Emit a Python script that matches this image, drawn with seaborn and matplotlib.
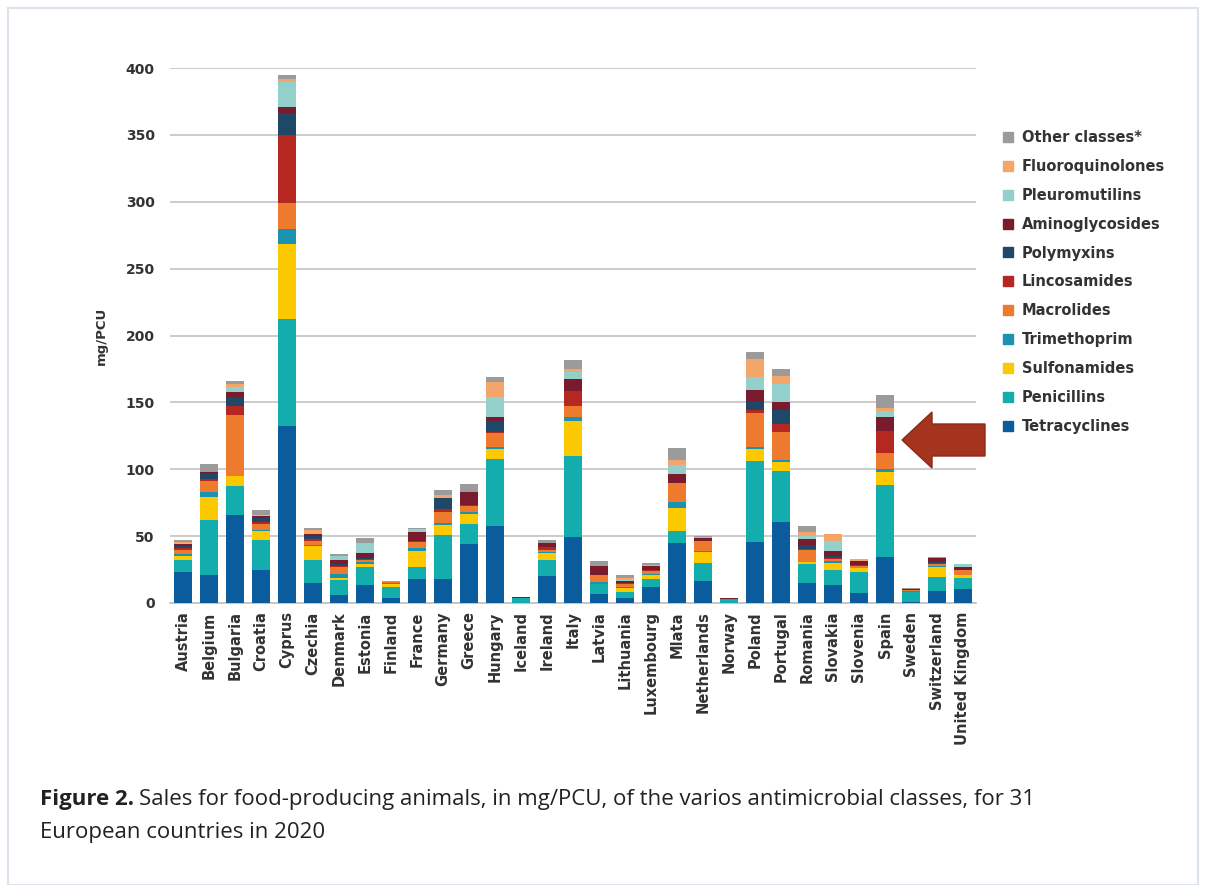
import matplotlib
matplotlib.use("Agg")
import matplotlib.pyplot as plt
from matplotlib.patches import Rectangle, FancyArrow
from matplotlib.lines import Line2D
import numpy as np
import pandas as pd
import seaborn as sns

countries = ["Austria", "Belgium", "Bulgaria", "Croatia", "Cyprus", "Czechia", "Denmark",
             "Estonia", "Finland", "France", "Germany", "Greece", "Hungary", "Iceland",
             "Ireland", "Italy", "Latvia", "Lithuania", "Luxembourg", "Mlata", "Netherlands",
             "Norway", "Poland", "Portugal", "Romania", "Slovakia", "Slovenia", "Spain",
             "Sweden", "Switzerland", "United Kingdom"]

tetracyclines    = [23.0, 21.0, 66.0, 24.7, 132.0, 15.0, 6.2, 13.7, 3.7, 18.2, 18.2, 44.0, 57.7, 0.3, 20.0, 49.3, 6.9, 3.5, 11.9, 44.8, 16.3, 0.3, 45.5, 60.4, 15.2, 13.7, 7.7, 34.4, 0.5, 8.7, 10.2]
penicillins      = [9.0, 41.0, 21.7, 22.5, 80.6, 17.5, 11.3, 13.3, 8.3, 8.8, 32.8, 14.8, 50.3, 3.2, 12.4, 60.7, 7.0, 4.7, 5.7, 9.2, 13.7, 2.8, 60.5, 38.1, 14.2, 10.7, 15.5, 53.6, 7.5, 10.8, 8.5]
sulfonamides     = [3.5, 17.3, 7.3, 6.3, 56.0, 10.0, 1.0, 2.0, 2.2, 11.7, 7.6, 8.0, 7.3, 0.0, 5.0, 26.4, 0.5, 2.7, 3.7, 17.3, 8.1, 0.0, 9.3, 6.9, 1.0, 5.8, 3.0, 10.0, 0.5, 7.4, 2.0]
trimethoprim     = [1.0, 3.9, 0.0, 0.8, 10.7, 0.5, 3.0, 1.5, 0.5, 2.7, 1.4, 1.2, 1.3, 0.0, 0.5, 2.5, 1.0, 1.0, 0.5, 4.0, 1.0, 0.0, 1.3, 1.8, 0.5, 1.2, 0.3, 2.5, 0.5, 1.0, 0.5]
macrolides       = [3.5, 7.8, 45.7, 4.5, 19.5, 3.5, 5.5, 1.5, 1.0, 4.2, 8.0, 4.6, 10.4, 0.0, 2.0, 8.6, 5.9, 2.0, 2.0, 14.1, 7.4, 0.0, 25.4, 21.0, 8.5, 1.5, 1.5, 12.0, 0.5, 1.5, 3.2]
lincosamides     = [1.0, 2.0, 6.8, 1.5, 51.0, 1.0, 1.0, 1.0, 0.0, 1.0, 2.0, 1.0, 0.5, 0.0, 1.7, 11.2, 0.0, 1.0, 0.5, 0.0, 0.0, 0.0, 2.3, 5.7, 1.0, 0.5, 0.5, 15.9, 0.0, 0.5, 0.5]
polymyxins       = [1.5, 3.3, 6.5, 3.3, 16.7, 2.5, 1.0, 1.0, 0.0, 0.0, 8.8, 0.0, 8.9, 0.0, 0.5, 0.0, 0.0, 0.0, 0.0, 0.0, 0.0, 0.0, 6.9, 10.4, 3.0, 1.5, 0.0, 0.0, 0.0, 0.5, 0.0]
aminoglycosides  = [1.5, 1.3, 3.5, 1.5, 4.5, 1.5, 3.5, 3.7, 0.3, 6.5, 0.0, 9.4, 2.5, 0.8, 2.5, 9.1, 6.2, 1.5, 3.4, 6.9, 2.0, 0.3, 8.2, 5.7, 4.7, 3.8, 3.0, 10.8, 1.0, 3.0, 2.3]
pleuromutilins   = [1.0, 0.5, 3.9, 0.5, 18.5, 0.0, 3.0, 7.5, 0.0, 2.0, 0.0, 0.0, 14.8, 0.0, 0.0, 5.0, 0.0, 1.0, 0.0, 6.7, 0.0, 0.0, 9.2, 13.6, 2.0, 7.4, 0.0, 4.2, 0.0, 0.0, 2.2]
fluoroquinolones = [0.5, 0.0, 2.4, 0.5, 2.5, 3.0, 0.0, 0.0, 0.0, 0.0, 2.0, 0.0, 11.9, 0.0, 0.0, 2.0, 0.0, 1.5, 0.5, 3.7, 0.5, 0.0, 13.6, 6.2, 3.0, 5.3, 1.2, 2.5, 0.0, 0.5, 0.0]
other_classes    = [1.5, 5.5, 2.2, 3.5, 2.8, 1.5, 1.2, 3.7, 0.2, 1.0, 3.5, 6.3, 3.4, 0.0, 2.2, 6.6, 3.7, 2.4, 1.8, 9.2, 0.8, 0.0, 5.4, 5.4, 4.3, 0.0, 0.0, 9.5, 0.7, 0.5, 0.0]

classes = ["Tetracyclines", "Penicillins", "Sulfonamides", "Trimethoprim", "Macrolides",
           "Lincosamides", "Polymyxins", "Aminoglycosides", "Pleuromutilins",
           "Fluoroquinolones", "Other classes*"]
series = [tetracyclines, penicillins, sulfonamides, trimethoprim, macrolides, lincosamides,
          polymyxins, aminoglycosides, pleuromutilins, fluoroquinolones, other_classes]
colors = ["#0a5c9c", "#12adac", "#fcc900", "#1a92b1", "#ee7a2e", "#b52822",
          "#1f4767", "#7a1b2d", "#93d0cc", "#f4a66a", "#9b9b9b"]

yticks = [0, 50, 100, 150, 200, 250, 300, 350, 400]

df = pd.DataFrame({c: s for c, s in zip(classes, series)})
df["country"] = countries
cum = df[classes].cumsum(axis=1)

sns.set_style("white")
plt.rcParams["font.family"] = ["DejaVu Sans"]

fig = plt.figure(figsize=(12.08, 8.85), dpi=100)
ax = fig.add_axes([170 / 1208, 1 - 603 / 885, 806 / 1208, 535 / 885])

for cls, col in reversed(list(zip(classes, colors))):
    sns.barplot(x=countries, y=cum[cls].values, color=col, width=0.7,
                edgecolor="none", linewidth=0, ax=ax, zorder=3, saturation=1)

ax.set_ylim(0, 400)
ax.set_xlim(-0.5, len(countries) - 0.5)
ax.set_yticks(yticks)
ax.set_yticklabels([str(t) for t in yticks], fontsize=10, fontweight="bold", color="#333333")
for t in yticks[1:]:
    ax.axhline(t, color="#c4c4c4", lw=1.2, zorder=1)
ax.tick_params(axis="y", length=0, pad=11)
ax.set_xticks(range(len(countries)))
ax.set_xticklabels(countries, rotation=90, fontsize=10.5, fontweight="bold", color="#333333")
ax.set_xticks(np.arange(-0.5, len(countries)), minor=True)
ax.tick_params(axis="x", which="major", length=0, pad=6)
ax.tick_params(axis="x", which="minor", length=10, color="#bcbcbc", width=1)
for s in ["top", "right", "left"]:
    ax.spines[s].set_visible(False)
ax.spines["bottom"].set_color("#bcbcbc")
ax.spines["bottom"].set_linewidth(1.2)
ax.set_ylabel("mg/PCU", fontsize=9.5, fontweight="bold", color="#333333", labelpad=13)
ax.set_xlabel("")

handles = [Line2D([0], [0], marker="s", linestyle="none", markersize=7,
                  markerfacecolor=c, markeredgecolor=c) for c in colors]
leg = fig.legend(handles[::-1], classes[::-1], loc="upper left",
                 bbox_to_anchor=(988 / 1208, 1 - 117 / 885), frameon=False,
                 prop={"size": 10.5, "weight": "bold"}, labelspacing=0.95,
                 handletextpad=0.4, handlelength=1.0)
for t in leg.get_texts():
    t.set_color("#333333")

# arrow pointing at Spain
arr = FancyArrow(985 / 1208, 1 - 440 / 885, -83 / 1208, 0, width=32 / 885,
                 head_width=56 / 885, head_length=30 / 1208, length_includes_head=True,
                 transform=fig.transFigure, facecolor="#a5341f", edgecolor="#8a2a18", lw=1)
fig.patches.append(arr)

# frame
fig.patches.append(Rectangle((8 / 1208, 0), 1190 / 1208, 1 - 8 / 885, transform=fig.transFigure,
                             fill=False, edgecolor="#dbe4ec", lw=1.5))

# caption
cap_font = ["Open Sans", "DejaVu Sans"]
cap_size = 16
t1 = fig.text(40 / 1208, 1 - 805 / 885, "Figure 2.", fontsize=cap_size, fontweight="bold",
              family=cap_font, color="#222222", va="baseline")
fig.canvas.draw()
bb = t1.get_window_extent()
x2 = (bb.x1 + 5) / fig.bbox.width
fig.text(x2, 1 - 805 / 885,
         "Sales for food-producing animals, in mg/PCU, of the varios antimicrobial classes, for 31",
         fontsize=cap_size, family=cap_font, color="#222222", va="baseline")
fig.text(40 / 1208, 1 - 838 / 885, "European countries in 2020", fontsize=cap_size,
         family=cap_font, color="#222222", va="baseline")

fig.savefig("out.png", dpi=100, facecolor="white")
